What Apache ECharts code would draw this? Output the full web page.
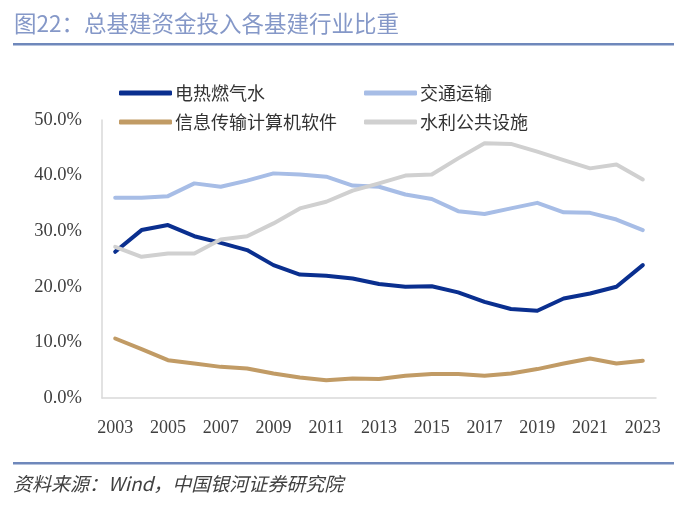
<!DOCTYPE html>
<html>
<head>
<meta charset="utf-8">
<script src="https://cdn.jsdelivr.net/npm/echarts@6/dist/echarts.min.js"></script>
<style>html,body{margin:0;padding:0;background:#fff;}#c{width:700px;height:508px;}</style>
</head>
<body>
<div id="c"></div>
<script>
var years = ['2003','2004','2005','2006','2007','2008','2009','2010','2011','2012','2013','2014','2015','2016','2017','2018','2019','2020','2021','2022','2023'];
var power = [26.3,30.2,31.1,29.1,27.9,26.6,23.9,22.2,22.0,21.5,20.5,20.0,20.1,19.0,17.3,16.0,15.7,17.9,18.8,20.0,23.9];
var transport = [36.0,36.0,36.3,38.6,38.0,39.1,40.4,40.2,39.8,38.2,38.0,36.6,35.8,33.6,33.1,34.1,35.1,33.4,33.3,32.1,30.2];
var infoTech = [10.7,8.8,6.8,6.2,5.6,5.3,4.4,3.7,3.2,3.5,3.4,4.0,4.3,4.3,4.0,4.4,5.2,6.2,7.1,6.2,6.7];
var waterPublic = [27.2,25.4,26.0,26.0,28.5,29.1,31.4,34.1,35.3,37.3,38.6,40.0,40.2,43.1,45.8,45.7,44.3,42.8,41.3,42.0,39.3];
var names = ['电热燃气水','交通运输','信息传输计算机软件','水利公共设施'];
var colors = ['#0a2f8f','#a7bde6','#c19b65','#d0d0d0'];

var chart = echarts.init(document.getElementById('c'));
var serif = '"Liberation Serif","DejaVu Serif",serif';
var cjk = '"Noto Sans CJK SC","Noto Sans",sans-serif';
function mk(i, data){
  return {name:names[i], type:'line', data:data, showSymbol:false, symbol:'none',
    lineStyle:{color:colors[i], width:4, cap:'round', join:'round'}, itemStyle:{color:colors[i]}, z: 2};
}
var legendCommon = {orient:'vertical', itemWidth:53, itemHeight:5, icon:'roundRect', itemGap:11,
  textStyle:{fontFamily:cjk, fontSize:18, color:'#333', padding:[0,0,0,-2]}};
chart.setOption({
  animation:false,
  grid:{left:102, right:44, top:120, bottom:110, containLabel:false},
  legend:[
    Object.assign({left:114, top:79, data:[names[0],names[2]]}, legendCommon),
    Object.assign({left:359, top:79, data:[names[1],names[3]]}, legendCommon)
  ],
  xAxis:{type:'category', data:years, boundaryGap:true,
    axisLine:{lineStyle:{color:'#d9d9d9', width:1.5}}, axisTick:{show:false},
    axisLabel:{interval:1, color:'#404040', fontFamily:serif, fontSize:18, margin:21}},
  yAxis:{type:'value', min:0, max:50, interval:10,
    axisLine:{show:true, lineStyle:{color:'#d9d9d9', width:1.5}}, axisTick:{show:false}, splitLine:{show:false},
    axisLabel:{color:'#404040', fontFamily:serif, fontSize:18.5, margin:20, formatter:function(v){return v.toFixed(1)+'%';}}},
  series:[mk(0,power), mk(1,transport), mk(2,infoTech), mk(3,waterPublic)],
  graphic:[
    {type:'text', left:14, top:12, style:{text:'图22：总基建资金投入各基建行业比重', font:'22.5px '+cjk, fill:'#8598c8'}},
    {type:'rect', shape:{x:13, y:43, width:661, height:2.5}, style:{fill:'#6f88bb'}},
    {type:'rect', shape:{x:13, y:462, width:661, height:2.5}, style:{fill:'#6f88bb'}},
    {type:'text', left:13, top:474, style:{text:'资料来源：Wind，中国银河证券研究院', font:'italic 19px '+cjk, fill:'#404040'}}
  ]
});
</script>
</body>
</html>
